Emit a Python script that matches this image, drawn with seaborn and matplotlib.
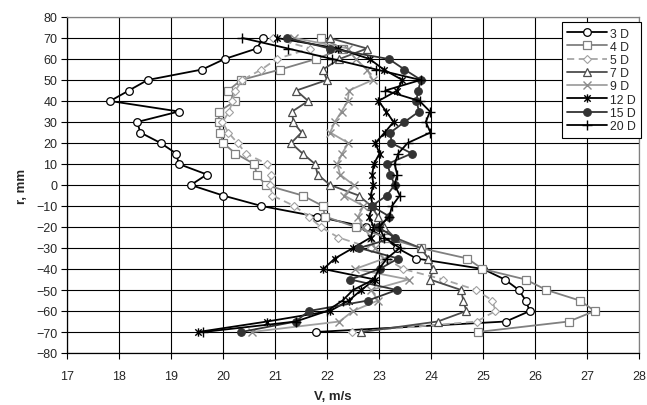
import matplotlib
matplotlib.use("Agg")
import matplotlib.pyplot as plt
from matplotlib.path import Path
import seaborn as sns
import pandas as pd

r_mm = [70, 65, 60, 55, 50, 45, 40, 35, 30, 25, 20, 15, 10, 5, 0,
        -5, -10, -15, -20, -25, -30, -35, -40, -45, -50, -55, -60, -65, -70]

v_3d = [20.77, 20.65, 20.03, 19.60, 18.55, 18.19, 17.83, 19.15, 18.35, 18.41, 18.80, 19.10, 19.15, 19.69, 19.38,
        20.00, 20.74, 21.80, 22.75, 23.10, 23.35, 23.72, 25.00, 25.42, 25.69, 25.82, 25.90, 25.44, 21.78]
v_4d = [21.89, 22.30, 21.79, 21.10, 20.35, 20.10, 20.24, 19.92, 19.92, 19.95, 20.00, 20.24, 20.60, 20.65, 20.82,
        21.53, 21.92, 21.96, 22.55, 23.15, 23.80, 24.70, 24.99, 25.82, 26.22, 26.86, 27.15, 26.65, 24.90]
v_5d = [20.96, 21.68, 21.03, 20.74, 20.37, 20.24, 20.18, 20.12, 19.99, 20.10, 20.28, 20.44, 20.85, 20.92, 20.90,
        20.95, 21.37, 21.65, 21.88, 22.22, 22.85, 23.15, 23.46, 24.24, 24.87, 25.18, 25.24, 24.88, 22.48]
v_7d = [22.05, 22.77, 22.24, 21.92, 22.00, 21.41, 21.64, 21.33, 21.35, 21.51, 21.31, 21.53, 21.77, 21.82, 22.06,
        22.61, 22.85, 22.98, 23.10, 23.30, 23.80, 23.95, 24.04, 23.98, 24.58, 24.62, 24.68, 24.13, 22.66]
v_9d = [21.37, 22.41, 22.55, 22.77, 22.88, 22.42, 22.40, 22.28, 22.15, 22.06, 22.41, 22.29, 22.20, 22.25, 22.51,
        22.33, 22.70, 22.60, 22.69, 22.85, 22.92, 23.10, 22.54, 23.57, 22.85, 22.98, 22.50, 22.24, 20.55]
v_12d = [21.04, 22.21, 22.82, 23.09, 23.45, 23.35, 22.99, 23.14, 23.28, 23.11, 22.93, 23.01, 22.90, 22.87, 22.89,
         22.84, 22.88, 22.81, 22.90, 22.84, 22.50, 22.15, 21.93, 22.92, 22.66, 22.42, 22.06, 20.85, 19.52]
v_15d = [21.24, 22.05, 23.19, 23.49, 23.81, 23.75, 23.72, 23.77, 23.49, 23.22, 23.24, 23.63, 23.16, 23.22, 23.30,
         23.15, 22.86, 23.20, 22.98, 23.30, 22.62, 23.37, 23.01, 22.45, 23.34, 22.79, 21.65, 21.40, 20.35]
v_20d = [20.37, 21.25, 22.10, 22.95, 23.80, 23.12, 23.78, 23.98, 23.90, 23.99, 23.55, 23.37, 23.30, 23.35, 23.30,
         23.40, 23.25, 23.20, 23.00, 23.10, 23.40, 23.15, 23.00, 22.90, 22.50, 22.30, 22.00, 21.40, 19.62]

series_names = ["3 D", "4 D", "5 D", "7 D", "9 D", "12 D", "15 D", "20 D"]
series_values = [v_3d, v_4d, v_5d, v_7d, v_9d, v_12d, v_15d, v_20d]

x_ticks = list(range(17, 29))
y_ticks = list(range(-80, 81, 10))

sns.set_theme(style="white")
plt.rcParams["font.family"] = ["Liberation Sans", "DejaVu Sans"]

star = Path([(-1, -1), (1, 1), (-1, 1), (1, -1), (0, -1.3), (0, 1.3)],
            [Path.MOVETO, Path.LINETO, Path.MOVETO, Path.LINETO, Path.MOVETO, Path.LINETO])

styles = {
    "3 D": dict(color="black", marker="o", mfc="white", mec="black", ms=5.5, mew=0.9, ls="-"),
    "4 D": dict(color="#808080", marker="s", mfc="white", mec="#808080", ms=5.2, mew=0.9, ls="-"),
    "5 D": dict(color="#a6a6a6", marker="D", mfc="white", mec="#a0a0a0", ms=3.6, mew=0.8, ls=(0, (4, 2.5))),
    "7 D": dict(color="#4d4d4d", marker="^", mfc="white", mec="#4d4d4d", ms=5.5, mew=0.9, ls="-"),
    "9 D": dict(color="#a0a0a0", marker="x", mfc="none", mec="#8c8c8c", ms=6, mew=1.0, ls="-"),
    "12 D": dict(color="black", marker=star, mfc="none", mec="black", ms=6, mew=1.0, ls="-"),
    "15 D": dict(color="#333333", marker="o", mfc="#333333", mec="#333333", ms=5.5, mew=0.8, ls="-"),
    "20 D": dict(color="black", marker="+", mfc="none", mec="black", ms=7, mew=1.0, ls="-"),
}

df = pd.concat([pd.DataFrame({"V": v, "r": r_mm, "series": name})
                for name, v in zip(series_names, series_values)], ignore_index=True)

fig = plt.figure(figsize=(6.47, 4.06), dpi=100)
ax = fig.add_axes([67 / 647, 1 - 354 / 406, (639 - 67) / 647, (354 - 18) / 406])

for name in series_names:
    sub = df[df["series"] == name]
    st = styles[name]
    sns.lineplot(data=sub, x="V", y="r", sort=False, estimator=None, ax=ax,
                 color=st["color"], linestyle=st["ls"], linewidth=1.3,
                 marker=st["marker"], markerfacecolor=st["mfc"], markeredgecolor=st["mec"],
                 markersize=st["ms"], markeredgewidth=st["mew"], label=name)

ax.set_xlim(17, 28)
ax.set_ylim(-80, 80)
ax.set_xticks(x_ticks)
ax.set_yticks(y_ticks)
ax.grid(True, color="black", linewidth=0.8)
ax.set_axisbelow(True)
for side in ["left", "bottom"]:
    ax.spines[side].set_color("black")
    ax.spines[side].set_linewidth(0.9)
for side in ["top", "right"]:
    ax.spines[side].set_color("#808080")
    ax.spines[side].set_linewidth(0.9)
ax.tick_params(axis="both", which="major", direction="out", length=4, width=0.8,
               color="black", labelsize=9, pad=3, left=True, bottom=True)
ax.tick_params(axis="x", pad=8)
ax.set_xlabel("")
ax.set_ylabel("")

fig.text(333 / 647, 1 - 397 / 406, "V, m/s", ha="center", va="center", fontsize=9.5, fontweight="bold")
fig.text(22 / 647, 1 - 186 / 406, "r, mm", ha="center", va="center", rotation=90, fontsize=9.5, fontweight="bold")

leg = ax.legend(loc="upper right", bbox_to_anchor=(641 / 647, 1 - 23 / 406), bbox_transform=fig.transFigure,
                fontsize=8.8, frameon=True, fancybox=False, framealpha=1, edgecolor="black",
                borderpad=0.45, labelspacing=0.1, handlelength=3.2, handletextpad=0.25, borderaxespad=0)
leg.get_frame().set_linewidth(0.8)

fig.savefig("out.png", dpi=100)
